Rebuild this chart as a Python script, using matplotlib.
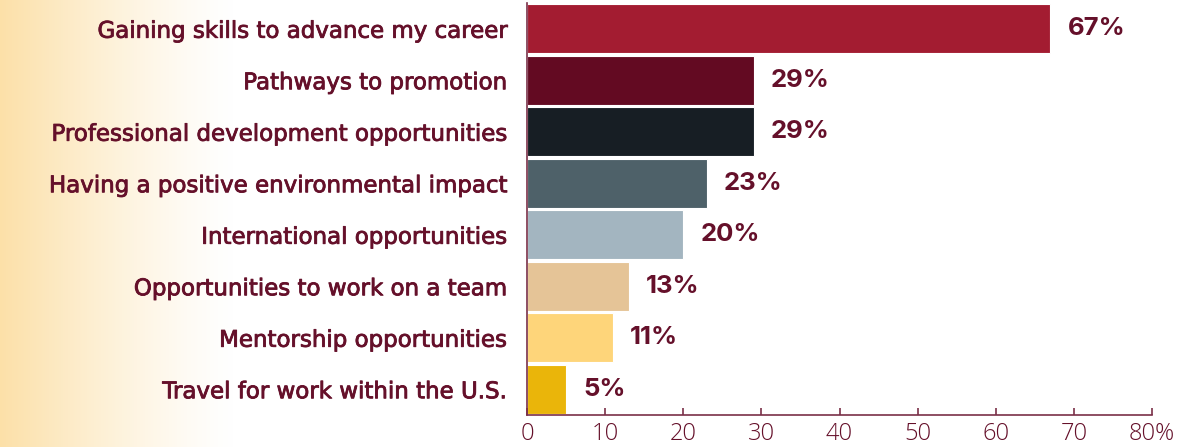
import matplotlib.pyplot as plt
import matplotlib.patheffects as pe
import numpy as np

categories = [
    "Gaining skills to advance my career",
    "Pathways to promotion",
    "Professional development opportunities",
    "Having a positive environmental impact",
    "International opportunities",
    "Opportunities to work on a team",
    "Mentorship opportunities",
    "Travel for work within the U.S.",
]
values = [67, 29, 29, 23, 20, 13, 11, 5]
bar_colors = ["#A31C31", "#630A22", "#171E24", "#4E6169",
              "#A3B5C0", "#E5C497", "#FED57A", "#EAB50A"]
x_ticks = [0, 10, 20, 30, 40, 50, 60, 70, 80]
x_tick_labels = ["0", "10", "20", "30", "40", "50", "60", "70", "80%"]

maroon = "#65102A"
axis_col = "#7A3048"

fig = plt.figure(figsize=(11.79, 4.47), dpi=100)

# background gradient: pale orange on the left fading to white
bg = fig.add_axes([0, 0, 1, 1], zorder=-1)
grad = np.linspace(0, 1, 600)
alpha = np.clip(1 - grad / 0.2, 0, 1) ** 1.3
img = np.ones((1, 600, 4))
img[0, :, 0] = 0.99
img[0, :, 1] = 0.88
img[0, :, 2] = 0.66
img[0, :, 3] = alpha
bg.imshow(img, aspect="auto", extent=[0, 1, 0, 1])
bg.axis("off")

ax = fig.add_axes([527 / 1179, 1 - 415 / 447, (1152 - 527) / 1179, 412 / 447])
ax.patch.set_alpha(0)

y = np.arange(len(categories))
ax.barh(y, values, height=0.96, color=bar_colors, edgecolor="white", linewidth=0.8)
for yi, v in zip(y, values):
    ax.text(v + 2.2, yi, f"{v}%", va="center", ha="left", fontsize=18.5,
            fontweight="bold", color=maroon, family="Inter")

ax.set_xlim(0, 80)
ax.set_ylim(len(categories) - 0.5, -0.5)
ax.set_yticks(y)
ax.set_yticklabels(categories, fontsize=16.5, color=maroon, family="DejaVu Sans")
for lbl in ax.get_yticklabels():
    lbl.set_path_effects([pe.withStroke(linewidth=0.6, foreground=maroon)])
ax.set_xticks(x_ticks)
ax.set_xticklabels(x_tick_labels, fontsize=17, color=maroon, family="Open Sans", fontweight="light")
ax.tick_params(axis="y", length=0, pad=14.5)
ax.tick_params(axis="x", direction="in", length=5, width=1.2, color=axis_col, pad=5)
for s in ["top", "right"]:
    ax.spines[s].set_visible(False)
ax.spines["left"].set_color(axis_col)
ax.spines["bottom"].set_color(axis_col)
ax.spines["left"].set_linewidth(1.2)
ax.spines["bottom"].set_linewidth(1.2)

fig.savefig("out.png", dpi=100)
